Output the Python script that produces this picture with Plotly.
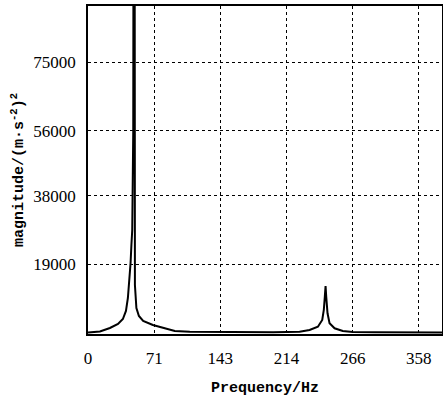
import plotly.graph_objects as go

# Frequency (Hz) and magnitude
freq = [0, 12.9, 23.7, 32.4, 37.7, 41.0, 43.1, 44.8, 46.0, 46.9, 47.8, 48.9, 49.9,
        50.7, 52.3, 55.0, 59.6, 70.1, 83.1, 93.8, 110, 140, 170, 200, 215,
        228.6, 239.4, 248.4, 253.1, 254.8, 255.9, 256.7, 257.4, 258.8, 261.0,
        266.4, 275.3, 286.1, 310, 340, 382.5]
magnitude = [150, 415, 1384, 2491, 3875, 6090, 9688, 14670, 19376, 24358, 28510, 56000, 300000,
             13290, 6920, 4706, 3322, 2214, 1246, 554, 350, 250, 200, 200, 250,
             360, 830, 1744, 3598, 6366, 10048, 13010, 10048, 5453, 2685,
             1300, 554, 277, 180, 150, 130]

x_tick_values = [0, 71.5, 143, 214.5, 286, 357.5]
x_tick_labels = ["0", "71", "143", "214", "266", "358"]
y_tick_values = [19000, 38000, 56000, 75000]
y_tick_labels = ["19000", "38000", "56000", "75000"]

fig = go.Figure()
fig.add_trace(go.Scatter(x=freq, y=magnitude, mode="lines",
                         line=dict(color="black", width=2), showlegend=False,
                         cliponaxis=True))

title_font = dict(family="Liberation Mono", size=15, color="black")

fig.update_layout(
    width=443, height=397,
    margin=dict(l=88, r=1, t=6, b=63),
    paper_bgcolor="white", plot_bgcolor="white",
    template="none",
    font=dict(family="serif", size=17, color="black"),
)
fig.layout.xaxis.tickfont.family = "serif"
fig.layout.xaxis.tickfont.size = 17
fig.layout.yaxis.tickfont.family = "serif"
fig.layout.yaxis.tickfont.size = 17
fig.update_xaxes(range=[0, 382.5], tickmode="array", tickvals=x_tick_values, ticktext=x_tick_labels,
                 showgrid=True, gridcolor="black", griddash="dot", gridwidth=1,
                 showline=True, mirror=True, linecolor="black", linewidth=1.5,
                 ticks="outside", ticklen=8, tickcolor="rgba(0,0,0,0)", zeroline=False,
                 title=dict(text="<b>Prequency/Hz</b>", font=title_font, standoff=14))
fig.update_yaxes(range=[-280, 90500], tickmode="array", tickvals=y_tick_values, ticktext=y_tick_labels,
                 showgrid=True, gridcolor="black", griddash="dot", gridwidth=1,
                 showline=True, mirror=True, linecolor="black", linewidth=1.5,
                 ticks="outside", ticklen=7, tickcolor="rgba(0,0,0,0)", zeroline=False,
                 title=dict(text="<b>magnitude/(m·s<sup>-2</sup>)<sup>2</sup></b>",
                            font=title_font, standoff=6))

fig.write_html("out.html")
